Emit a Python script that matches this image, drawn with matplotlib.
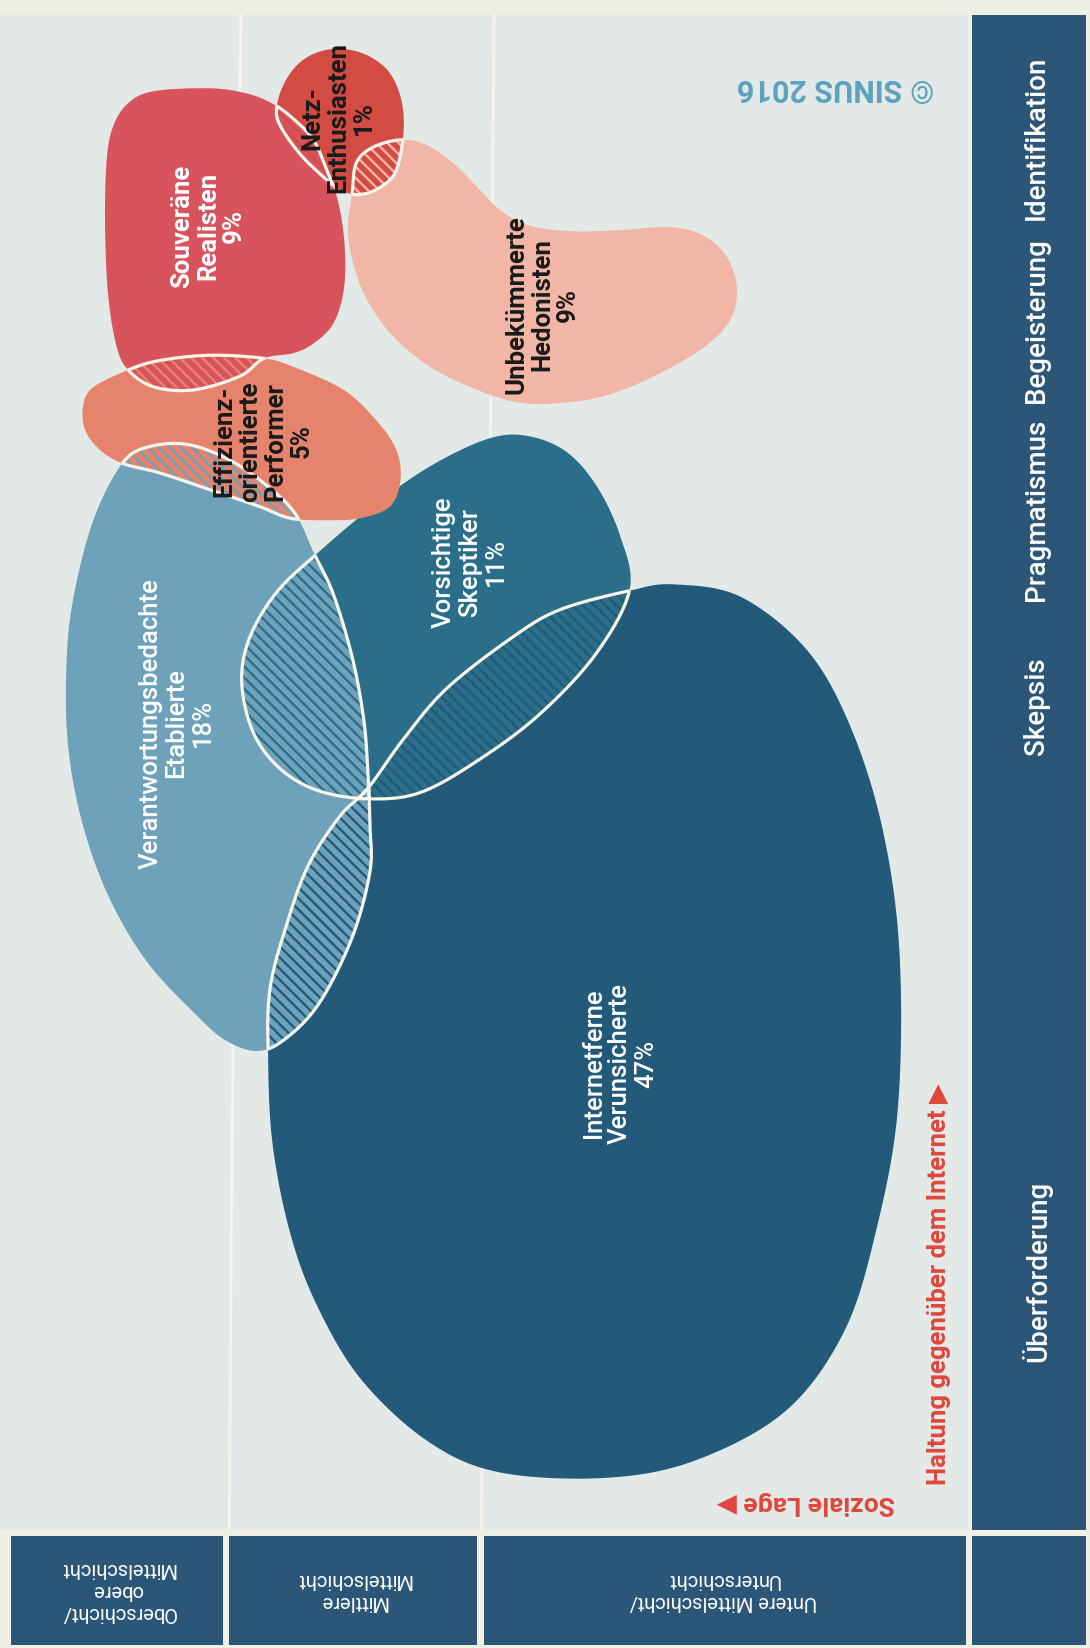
import numpy as np
import matplotlib
matplotlib.use("Agg")
import matplotlib.pyplot as plt
from matplotlib.path import Path
from matplotlib.patches import PathPatch, Rectangle

plt.rcParams['font.family'] = ['Roboto', 'DejaVu Sans']
plt.rcParams['hatch.linewidth'] = 1.7

# ---- data ---------------------------------------------------------------
milieus = ["Internetferne\nVerunsicherte", "Verantwortungsbedachte\nEtablierte",
           "Vorsichtige\nSkeptiker", "Effizienz-\norientierte\nPerformer",
           "Souveräne\nRealisten", "Unbekümmerte\nHedonisten", "Netz-\nEnthusiasten"]
shares = [47, 18, 11, 5, 9, 9, 1]

haltung = ["Überforderung", "Skepsis", "Pragmatismus", "Begeisterung", "Identifikation"]
haltung_pos = [1210, 672, 485, 305, 131]

schichten = ["Oberschicht/\nobere\nMittelschicht", "Mittlere\nMittelschicht",
             "Untere Mittelschicht/\nUnterschicht"]
schicht_pos = [112, 336, 688]

# outlines of the milieu blobs on the map (social position, attitude position)
outline_iv = [(350, 750), (384, 703), (425, 655), (488, 606), (533, 580), (599, 562), (641, 556),
              (705, 568), (769, 620), (811, 696), (841, 795), (856, 911), (854, 1057), (833, 1173),
              (803, 1267), (748, 1342), (663, 1389), (578, 1406), (476, 1401), (408, 1372),
              (344, 1313), (302, 1243), (276, 1173), (259, 1086), (255, 999), (257, 940),
              (272, 882), (293, 824), (323, 777)]
outline_ve = [(117, 440), (142, 425), (179, 423), (219, 438), (255, 463), (281, 489), (299, 527),
              (317, 565), (335, 625), (346, 684), (350, 735), (352, 786), (352, 829), (335, 892),
              (304, 954), (272, 988), (245, 1000), (215, 990), (186, 965), (139, 914), (102, 850),
              (77, 778), (64, 701), (64, 616), (73, 553), (91, 489)]
outline_vs = [(299, 529), (357, 480), (412, 442), (466, 417), (503, 415), (539, 430), (568, 463),
              (590, 510), (599, 561), (567, 622), (514, 679), (457, 722), (400, 754), (350, 760),
              (302, 752), (266, 731), (241, 697), (230, 650), (237, 608), (262, 565)]
outline_ep = [(79, 387), (88, 369), (122, 352), (152, 343), (200, 338), (251, 341), (279, 349),
              (327, 371), (358, 400), (377, 428), (381, 457), (371, 482), (343, 493), (311, 495),
              (276, 493), (247, 482), (200, 466), (152, 450), (117, 441), (95, 428), (81, 409)]
outline_sr = [(145, 87), (200, 84), (235, 89), (260, 99), (279, 113), (298, 133),
              (311, 162), (322, 193), (328, 235), (327, 276), (317, 308), (298, 327), (279, 336),
              (251, 341), (228, 358), (184, 371), (146, 368), (122, 352), (111, 330), (103, 282),
              (100, 219), (101, 160), (106, 125), (120, 100)]
outline_uh = [(382, 133), (406, 138), (431, 155), (454, 178), (476, 200), (501, 214), (542, 220),
              (590, 219), (637, 216), (669, 224), (691, 244), (701, 273), (695, 304), (669, 331),
              (622, 358), (574, 377), (526, 384), (488, 382), (447, 368), (409, 349), (374, 320),
              (349, 285), (335, 247), (331, 216), (335, 184), (339, 155), (355, 140)]
outline_ne = [(263, 105), (270, 80), (287, 58), (313, 47), (343, 50), (368, 66), (381, 92),
              (384, 124), (377, 162), (362, 178), (343, 185), (324, 181), (304, 165), (285, 146),
              (268, 122)]
outlines = [outline_iv, outline_ve, outline_vs, outline_ep, outline_sr, outline_uh, outline_ne]

label_x = [590, 168, 447, 250, 198, 516, 322]
label_y = [1012, 688, 535, 420, 215, 290, 112]

# pairs of milieus that overlap (hatched areas)
overlaps = [(1, 0), (2, 0), (1, 2), (3, 1), (4, 3), (4, 6), (6, 5)]

colors = ["#235a7a", "#6ea2ba", "#2a6e89", "#e5836d", "#d9535c", "#f2b6a6", "#d24c44"]
text_colors = ["white", "white", "white", "#1a1a1a", "white", "#1a1a1a", "#1a1a1a"]
weights = ["medium", "medium", "medium", "bold", "bold", "bold", "bold"]

BAND = "#2c5678"
RED = "#e0473d"
PANEL = "#e3e9e7"
PAPER = "#f0efe4"
LINE = "#f7f5ea"


def smooth(pts, n=14):
    p = np.asarray(pts, float)
    p0, p1, p2, p3 = np.roll(p, 1, 0), p, np.roll(p, -1, 0), np.roll(p, -2, 0)
    t = np.linspace(0, 1, n, endpoint=False)[:, None, None]
    c = 0.5 * (2 * p1 + (-p0 + p2) * t + (2 * p0 - 5 * p1 + 4 * p2 - p3) * t ** 2
               + (-p0 + 3 * p1 - 3 * p2 + p3) * t ** 3)
    c = c.transpose(1, 0, 2).reshape(-1, 2)
    verts = np.vstack([c, c[:1]])
    codes = [Path.MOVETO] + [Path.LINETO] * (len(c) - 1) + [Path.CLOSEPOLY]
    return Path(verts, codes)


fig = plt.figure(figsize=(10.9, 16.48), dpi=100, facecolor=PAPER)
ax = fig.add_axes([0, 0, 1, 1])
ax.set_xlim(0, 1037)
ax.set_ylim(1568, 0)
ax.axis('off')

# panel, band and class boxes
ax.add_patch(Rectangle((0, 14), 921, 1442, fc=PANEL, ec='none', zorder=0))
ax.add_patch(Rectangle((925, 14), 108, 1442, fc=BAND, ec='none', zorder=0))
ax.add_patch(Rectangle((925, 1461), 108, 104, fc=BAND, ec='none', zorder=0))
box_edges = [(10, 212), (218, 454), (460, 919)]
for (x0, x1), lab, xc in zip(box_edges, schichten, schicht_pos):
    ax.add_patch(Rectangle((x0, 1461), x1 - x0, 104, fc=BAND, ec='none', zorder=0))
    ax.text(xc, 1513, lab, rotation=180, ha='center', va='center', ma='center',
            color='white', fontsize=14.5, linespacing=1.2)

ax.plot([229, 218], [14, 1456], color=LINE, lw=2, zorder=1)
ax.plot([470, 458], [14, 1456], color=LINE, lw=2, zorder=1)

for lab, y in zip(haltung, haltung_pos):
    ax.text(986, y, lab, rotation=90, ha='center', va='center', color='white',
            fontsize=20, fontweight='medium')

# blobs
paths = [smooth(o) for o in outlines]
blobs = []
for pth, col in zip(paths, colors):
    pp = PathPatch(pth, fc=col, ec='none', zorder=2)
    ax.add_patch(pp)
    blobs.append(pp)

# hatched overlaps
for a, b in overlaps:
    hp = PathPatch(paths[a], fc=colors[a], ec=colors[b], lw=0, hatch='\\\\\\', zorder=3)
    ax.add_patch(hp)
    hp.set_clip_path(blobs[b])

# white outlines inside overlaps
for a, b in overlaps:
    for i, j in ((a, b), (b, a)):
        op = PathPatch(paths[i], fc='none', ec=LINE, lw=2.3, zorder=4)
        ax.add_patch(op)
        op.set_clip_path(blobs[j])

# labels
for name, s, x, y, tc, w in zip(milieus, shares, label_x, label_y, text_colors, weights):
    ax.text(x, y, f"{name}\n{s}%", rotation=90, ha='center', va='center', ma='center',
            color=tc, fontsize=18.5, fontweight=w, linespacing=1.1, zorder=6)

ax.text(893, 1222, "Haltung gegenüber dem Internet ▶", rotation=90, ha='center', va='center',
        color=RED, fontsize=18.5, fontweight='bold', zorder=6)
ax.text(767, 1430, "Soziale Lage ▶", rotation=180, ha='center', va='center',
        color=RED, fontsize=19, fontweight='bold', zorder=6)
ax.text(795, 84, "© SINUS 2016", rotation=180, ha='center', va='center',
        color="#5ba3c0", fontsize=22, fontweight='bold', zorder=6)

fig.savefig("out.png", dpi=100, facecolor=PAPER)
